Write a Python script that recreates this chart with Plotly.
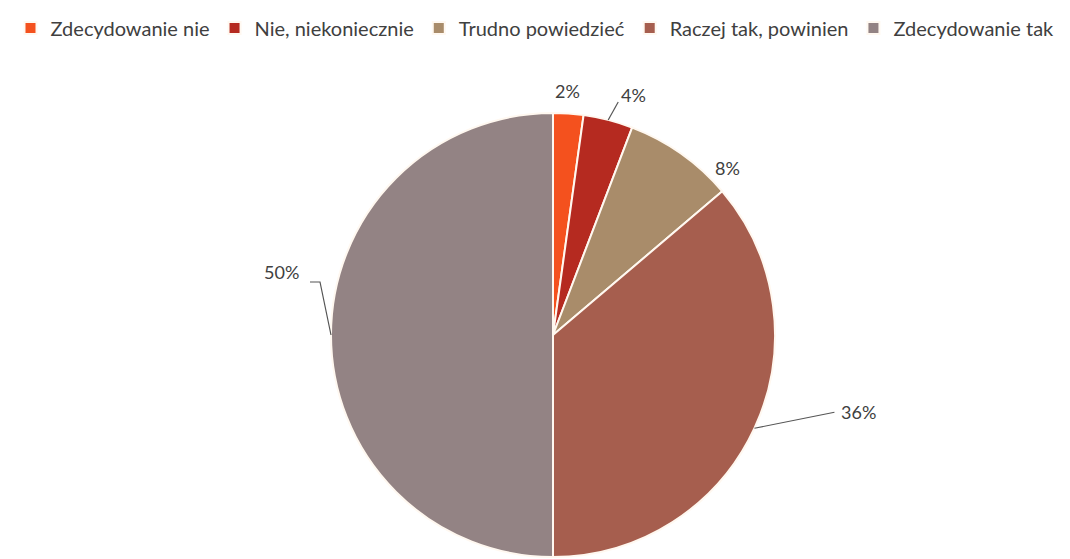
import math
import plotly.graph_objects as go

labels = ["Zdecydowanie nie", "Nie, niekoniecznie", "Trudno powiedzieć",
          "Raczej tak, powinien", "Zdecydowanie tak"]
values = [2.2, 3.6, 8.0, 36.2, 50.0]
colors = ["#F4511E", "#B52A20", "#A98C6A", "#A65E4E", "#938384"]

# label centre offsets from slice edge (pixels) and leader-line bend points
label_dx = [-1, 25, 46, 104, -50]
label_dy = [-23, -25, 14, -16, -63]
leader_pts = [[], [(10, -18)], [], [(80, -16)], [(-11, -53), (-21, -53)]]

W, H = 1070, 559
cx, cy, R = 553, 335, 222

fig = go.Figure(go.Pie(
    labels=labels, values=values, sort=False, direction="clockwise",
    rotation=0, textinfo="none", hoverinfo="label+percent",
    marker=dict(colors=colors, line=dict(color="#FFF8F0", width=2)),
    domain=dict(x=[(cx - R) / W, (cx + R) / W], y=[1 - (cy + R) / H, 1 - (cy - R) / H]),
))

def px(x, y):
    return x / W, 1 - y / H

total = sum(values)
cum = 0
annotations = []
shapes = []
for i, v in enumerate(values):
    mid = (cum + v / 2) / total * 2 * math.pi
    cum += v
    ex = cx + R * math.sin(mid)
    ey = cy - R * math.cos(mid)
    pct = round(v / total * 100)
    lx, ly = px(ex + label_dx[i], ey + label_dy[i])
    annotations.append(dict(
        x=lx, y=ly, xref="paper", yref="paper", xanchor="center", yanchor="middle",
        text=f"{pct}%", showarrow=False,
        font=dict(family="Lato, sans-serif", size=18, color="#404040"),
    ))
    if leader_pts[i]:
        pts = [(ex, ey)] + [(ex + dx, ey + dy) for dx, dy in leader_pts[i]]
        path = "M " + " L ".join(f"{px(x, y)[0]:.5f},{px(x, y)[1]:.5f}" for x, y in pts)
        shapes.append(dict(type="path", path=path, xref="paper", yref="paper",
                           line=dict(color="#555555", width=1.2)))

fig.update_layout(
    width=W, height=H,
    margin=dict(l=0, r=0, t=0, b=0),
    paper_bgcolor="white", plot_bgcolor="white",
    annotations=annotations, shapes=shapes,
    legend=dict(orientation="h", x=0.5, xanchor="center", y=0.985, yanchor="top",
                font=dict(family="Lato, sans-serif", size=20, color="#404040"),
                itemwidth=30, traceorder="normal"),
    showlegend=True,
)

fig.write_html("out.html", config={"displayModeBar": False},
               post_script="document.body.style.margin='0';")
